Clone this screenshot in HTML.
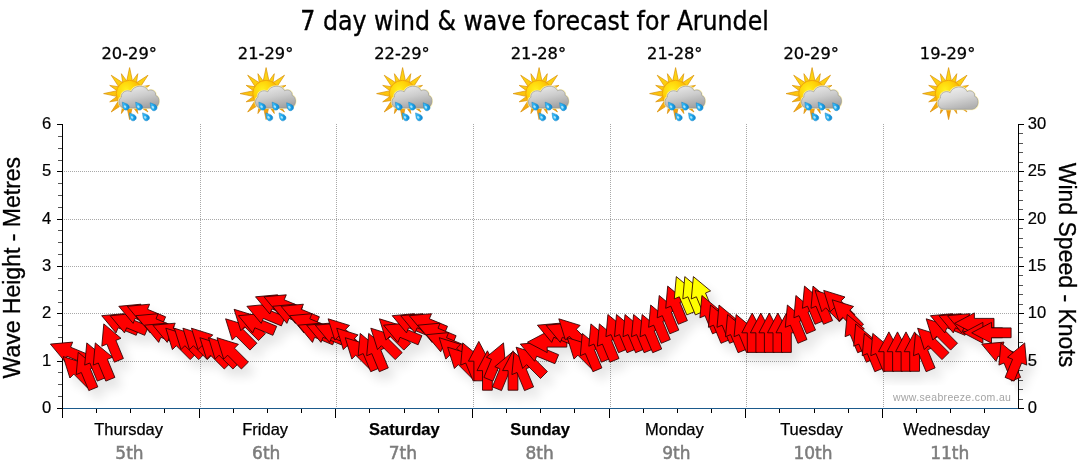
<!DOCTYPE html>
<html lang="en"><head><meta charset="utf-8"><title>7 day wind &amp; wave forecast for Arundel</title>
<style>html,body{margin:0;padding:0;background:#fff}body{width:1080px;height:475px;overflow:hidden}svg{display:block}</style>
</head><body>
<svg width="1080" height="475" viewBox="0 0 1080 475">
<defs>
<filter id="sh" x="-20%" y="-40%" width="140%" height="200%"><feGaussianBlur in="SourceAlpha" stdDeviation="5.5"/><feOffset dx="7" dy="9"/><feComponentTransfer><feFuncA type="linear" slope="0.11"/></feComponentTransfer></filter>
<radialGradient id="sunG" cx="0.36" cy="0.36" r="0.75"><stop offset="0" stop-color="#fff01e"/><stop offset="0.45" stop-color="#ffd208"/><stop offset="1" stop-color="#f39a08"/></radialGradient>
<linearGradient id="rayG" gradientUnits="userSpaceOnUse" x1="0" y1="-26" x2="0" y2="26"><stop offset="0" stop-color="#ffdc14"/><stop offset="0.5" stop-color="#fcc40c"/><stop offset="1" stop-color="#f0900c"/></linearGradient>
<linearGradient id="cloudG" x1="0.2" y1="0" x2="0.6" y2="1"><stop offset="0" stop-color="#ebebeb"/><stop offset="0.5" stop-color="#cccccc"/><stop offset="1" stop-color="#a2a2a2"/></linearGradient>
<linearGradient id="cloudL" x1="0.2" y1="0" x2="0.6" y2="1"><stop offset="0" stop-color="#f0f0f0"/><stop offset="0.5" stop-color="#d8d8d8"/><stop offset="1" stop-color="#b0b0b0"/></linearGradient>
<linearGradient id="dropG" x1="0" y1="0" x2="1" y2="1"><stop offset="0" stop-color="#6fd4ff"/><stop offset="0.5" stop-color="#22aef0"/><stop offset="1" stop-color="#0a7ac8"/></linearGradient>
</defs>
<rect width="1080" height="475" fill="#fff"/>
<text id="title" x="300.3" y="29.6" textLength="468.5" lengthAdjust="spacingAndGlyphs" font-family='"DejaVu Sans Condensed", "DejaVu Sans", Tahoma, sans-serif' font-size="27.3" fill="#000" stroke="#000" stroke-width="0.35">7 day wind &amp; wave forecast for Arundel</text>
<g stroke="#a8a8a8" stroke-width="1" stroke-dasharray="1,1" fill="none" shape-rendering="crispEdges"><line x1="64" x2="1018" y1="361.5" y2="361.5"/><line x1="64" x2="1018" y1="313.5" y2="313.5"/><line x1="64" x2="1018" y1="266.5" y2="266.5"/><line x1="64" x2="1018" y1="219.5" y2="219.5"/><line x1="64" x2="1018" y1="171.5" y2="171.5"/><line x1="200.5" x2="200.5" y1="124" y2="408"/><line x1="336.5" x2="336.5" y1="124" y2="408"/><line x1="473.5" x2="473.5" y1="124" y2="408"/><line x1="610.5" x2="610.5" y1="124" y2="408"/><line x1="746.5" x2="746.5" y1="124" y2="408"/><line x1="883.5" x2="883.5" y1="124" y2="408"/></g>
<g stroke="#000" stroke-width="1" fill="none" shape-rendering="crispEdges"><line x1="62.5" x2="62.5" y1="124" y2="417.5"/><line x1="1018.5" x2="1018.5" y1="124" y2="409"/><line x1="57" x2="62" y1="408.5" y2="408.5"/><line x1="58" x2="62" y1="396.5" y2="396.5" stroke="#555"/><line x1="58" x2="62" y1="384.5" y2="384.5" stroke="#555"/><line x1="58" x2="62" y1="372.5" y2="372.5" stroke="#555"/><line x1="57" x2="62" y1="361.5" y2="361.5"/><line x1="58" x2="62" y1="349.5" y2="349.5" stroke="#555"/><line x1="58" x2="62" y1="337.5" y2="337.5" stroke="#555"/><line x1="58" x2="62" y1="325.5" y2="325.5" stroke="#555"/><line x1="57" x2="62" y1="313.5" y2="313.5"/><line x1="58" x2="62" y1="302.5" y2="302.5" stroke="#555"/><line x1="58" x2="62" y1="290.5" y2="290.5" stroke="#555"/><line x1="58" x2="62" y1="278.5" y2="278.5" stroke="#555"/><line x1="57" x2="62" y1="266.5" y2="266.5"/><line x1="58" x2="62" y1="254.5" y2="254.5" stroke="#555"/><line x1="58" x2="62" y1="242.5" y2="242.5" stroke="#555"/><line x1="58" x2="62" y1="230.5" y2="230.5" stroke="#555"/><line x1="57" x2="62" y1="219.5" y2="219.5"/><line x1="58" x2="62" y1="207.5" y2="207.5" stroke="#555"/><line x1="58" x2="62" y1="195.5" y2="195.5" stroke="#555"/><line x1="58" x2="62" y1="183.5" y2="183.5" stroke="#555"/><line x1="57" x2="62" y1="171.5" y2="171.5"/><line x1="58" x2="62" y1="160.5" y2="160.5" stroke="#555"/><line x1="58" x2="62" y1="148.5" y2="148.5" stroke="#555"/><line x1="58" x2="62" y1="136.5" y2="136.5" stroke="#555"/><line x1="57" x2="62" y1="124.5" y2="124.5"/><line x1="1019" x2="1024" y1="408.5" y2="408.5"/><line x1="1019" x2="1023" y1="399.5" y2="399.5" stroke="#555"/><line x1="1019" x2="1023" y1="389.5" y2="389.5" stroke="#555"/><line x1="1019" x2="1023" y1="380.5" y2="380.5" stroke="#555"/><line x1="1019" x2="1023" y1="370.5" y2="370.5" stroke="#555"/><line x1="1019" x2="1024" y1="361.5" y2="361.5"/><line x1="1019" x2="1023" y1="351.5" y2="351.5" stroke="#555"/><line x1="1019" x2="1023" y1="342.5" y2="342.5" stroke="#555"/><line x1="1019" x2="1023" y1="332.5" y2="332.5" stroke="#555"/><line x1="1019" x2="1023" y1="323.5" y2="323.5" stroke="#555"/><line x1="1019" x2="1024" y1="313.5" y2="313.5"/><line x1="1019" x2="1023" y1="304.5" y2="304.5" stroke="#555"/><line x1="1019" x2="1023" y1="294.5" y2="294.5" stroke="#555"/><line x1="1019" x2="1023" y1="285.5" y2="285.5" stroke="#555"/><line x1="1019" x2="1023" y1="275.5" y2="275.5" stroke="#555"/><line x1="1019" x2="1024" y1="266.5" y2="266.5"/><line x1="1019" x2="1023" y1="257.5" y2="257.5" stroke="#555"/><line x1="1019" x2="1023" y1="247.5" y2="247.5" stroke="#555"/><line x1="1019" x2="1023" y1="238.5" y2="238.5" stroke="#555"/><line x1="1019" x2="1023" y1="228.5" y2="228.5" stroke="#555"/><line x1="1019" x2="1024" y1="219.5" y2="219.5"/><line x1="1019" x2="1023" y1="209.5" y2="209.5" stroke="#555"/><line x1="1019" x2="1023" y1="200.5" y2="200.5" stroke="#555"/><line x1="1019" x2="1023" y1="190.5" y2="190.5" stroke="#555"/><line x1="1019" x2="1023" y1="181.5" y2="181.5" stroke="#555"/><line x1="1019" x2="1024" y1="171.5" y2="171.5"/><line x1="1019" x2="1023" y1="162.5" y2="162.5" stroke="#555"/><line x1="1019" x2="1023" y1="152.5" y2="152.5" stroke="#555"/><line x1="1019" x2="1023" y1="143.5" y2="143.5" stroke="#555"/><line x1="1019" x2="1023" y1="133.5" y2="133.5" stroke="#555"/><line x1="1019" x2="1024" y1="124.5" y2="124.5"/><line x1="96.5" x2="96.5" y1="409" y2="413"/><line x1="130.5" x2="130.5" y1="409" y2="413"/><line x1="164.5" x2="164.5" y1="409" y2="413"/><line x1="199.5" x2="199.5" y1="409" y2="417.5"/><line x1="233.5" x2="233.5" y1="409" y2="413"/><line x1="267.5" x2="267.5" y1="409" y2="413"/><line x1="301.5" x2="301.5" y1="409" y2="413"/><line x1="335.5" x2="335.5" y1="409" y2="417.5"/><line x1="369.5" x2="369.5" y1="409" y2="413"/><line x1="404.5" x2="404.5" y1="409" y2="413"/><line x1="438.5" x2="438.5" y1="409" y2="413"/><line x1="472.5" x2="472.5" y1="409" y2="417.5"/><line x1="506.5" x2="506.5" y1="409" y2="413"/><line x1="540.5" x2="540.5" y1="409" y2="413"/><line x1="574.5" x2="574.5" y1="409" y2="413"/><line x1="609.5" x2="609.5" y1="409" y2="417.5"/><line x1="643.5" x2="643.5" y1="409" y2="413"/><line x1="677.5" x2="677.5" y1="409" y2="413"/><line x1="711.5" x2="711.5" y1="409" y2="413"/><line x1="745.5" x2="745.5" y1="409" y2="417.5"/><line x1="779.5" x2="779.5" y1="409" y2="413"/><line x1="814.5" x2="814.5" y1="409" y2="413"/><line x1="848.5" x2="848.5" y1="409" y2="413"/><line x1="882.5" x2="882.5" y1="409" y2="417.5"/><line x1="916.5" x2="916.5" y1="409" y2="413"/><line x1="950.5" x2="950.5" y1="409" y2="413"/><line x1="984.5" x2="984.5" y1="409" y2="413"/></g>
<line x1="63" x2="1018" y1="408.5" y2="408.5" stroke="#1b5a8c" stroke-width="1.1"/>
<g filter="url(#sh)" fill="#000" stroke="none"><polygon points="50.4,344.1 64.7,361.3 66.8,356.2 84.9,363.7 88.7,354.7 70.6,347.2 72.7,342.1"/><polygon points="63.2,356.6 69.9,378.0 73.8,374.1 87.6,388.0 94.6,381.0 80.7,367.2 84.6,363.3"/><polygon points="78.2,352.3 76.2,374.6 81.3,372.5 88.8,390.6 97.8,386.9 90.3,368.8 95.4,366.7"/><polygon points="86.8,342.9 84.7,365.1 89.8,363.0 97.3,381.1 106.4,377.4 98.9,359.3 103.9,357.2"/><polygon points="95.3,342.9 93.3,365.1 98.3,363.0 105.8,381.1 114.9,377.4 107.4,359.3 112.5,357.2"/><polygon points="103.8,323.9 101.8,346.2 106.9,344.1 114.4,362.2 123.4,358.5 115.9,340.4 121.0,338.3"/><polygon points="101.7,315.7 116.0,332.9 118.1,327.8 136.2,335.3 139.9,326.3 121.8,318.8 123.9,313.7"/><polygon points="110.2,315.7 124.5,332.9 126.6,327.8 144.7,335.3 148.5,326.3 130.4,318.8 132.5,313.7"/><polygon points="118.8,306.3 133.1,323.4 135.2,318.4 153.3,325.9 157.0,316.8 138.9,309.3 141.0,304.2"/><polygon points="127.3,306.3 141.6,323.4 143.7,318.4 161.8,325.9 165.6,316.8 147.5,309.3 149.6,304.2"/><polygon points="135.8,315.7 150.2,332.9 152.3,327.8 170.4,335.3 174.1,326.3 156.0,318.8 158.1,313.7"/><polygon points="144.4,325.2 158.7,342.4 160.8,337.3 178.9,344.8 182.7,335.7 164.6,328.2 166.7,323.2"/><polygon points="152.9,325.2 167.2,342.4 169.4,337.3 187.5,344.8 191.2,335.7 173.1,328.2 175.2,323.2"/><polygon points="165.8,328.2 172.4,349.6 176.3,345.7 190.2,359.6 197.1,352.6 183.2,338.8 187.1,334.9"/><polygon points="174.3,328.2 181.0,349.6 184.9,345.7 198.7,359.6 205.6,352.6 191.8,338.8 195.7,334.9"/><polygon points="182.9,328.2 189.5,349.6 193.4,345.7 207.3,359.6 214.2,352.6 200.3,338.8 204.2,334.9"/><polygon points="191.4,328.2 198.1,349.6 201.9,345.7 215.8,359.6 222.7,352.6 208.9,338.8 212.8,334.9"/><polygon points="199.9,337.7 206.6,359.1 210.5,355.2 224.3,369.0 231.3,362.1 217.4,348.2 221.3,344.3"/><polygon points="208.5,337.7 215.1,359.1 219.0,355.2 232.9,369.0 239.8,362.1 226.0,348.2 229.8,344.3"/><polygon points="217.0,337.7 223.7,359.1 227.6,355.2 241.4,369.0 248.4,362.1 234.5,348.2 238.4,344.3"/><polygon points="225.6,318.8 232.2,340.1 236.1,336.2 250.0,350.1 256.9,343.2 243.0,329.3 246.9,325.4"/><polygon points="234.1,309.3 240.8,330.7 244.7,326.8 258.5,340.6 265.4,333.7 251.6,319.8 255.5,315.9"/><polygon points="238.4,315.7 252.7,332.9 254.8,327.8 272.9,335.3 276.7,326.3 258.5,318.8 260.6,313.7"/><polygon points="246.9,306.3 261.2,323.4 263.3,318.4 281.4,325.9 285.2,316.8 267.1,309.3 269.2,304.2"/><polygon points="255.5,296.8 269.8,314.0 271.9,308.9 290.0,316.4 293.7,307.3 275.6,299.8 277.7,294.8"/><polygon points="264.0,296.8 278.3,314.0 280.4,308.9 298.5,316.4 302.3,307.3 284.2,299.8 286.3,294.8"/><polygon points="272.6,306.3 286.9,323.4 289.0,318.4 307.1,325.9 310.8,316.8 292.7,309.3 294.8,304.2"/><polygon points="281.1,306.3 295.4,323.4 297.5,318.4 315.6,325.9 319.4,316.8 301.3,309.3 303.4,304.2"/><polygon points="289.6,315.7 304.0,332.9 306.1,327.8 324.2,335.3 327.9,326.3 309.8,318.8 311.9,313.7"/><polygon points="298.2,325.2 312.5,342.4 314.6,337.3 332.7,344.8 336.5,335.7 318.4,328.2 320.5,323.2"/><polygon points="306.7,325.2 321.0,342.4 323.1,337.3 341.3,344.8 345.0,335.7 326.9,328.2 329.0,323.2"/><polygon points="315.3,325.2 329.6,342.4 331.7,337.3 349.8,344.8 353.5,335.7 335.4,328.2 337.5,323.2"/><polygon points="328.1,318.8 334.8,340.1 338.6,336.2 352.5,350.1 359.4,343.2 345.6,329.3 349.5,325.4"/><polygon points="336.7,328.2 343.3,349.6 347.2,345.7 361.0,359.6 368.0,352.6 354.1,338.8 358.0,334.9"/><polygon points="345.2,337.7 351.8,359.1 355.7,355.2 369.6,369.0 376.5,362.1 362.7,348.2 366.5,344.3"/><polygon points="360.2,333.4 358.1,355.7 363.2,353.6 370.7,371.7 379.8,367.9 372.3,349.8 377.3,347.7"/><polygon points="368.7,333.4 366.7,355.7 371.8,353.6 379.3,371.7 388.3,367.9 380.8,349.8 385.9,347.7"/><polygon points="370.8,328.2 377.5,349.6 381.4,345.7 395.2,359.6 402.2,352.6 388.3,338.8 392.2,334.9"/><polygon points="379.4,318.8 386.0,340.1 389.9,336.2 403.8,350.1 410.7,343.2 396.8,329.3 400.7,325.4"/><polygon points="383.6,325.2 397.9,342.4 400.0,337.3 418.1,344.8 421.9,335.7 403.8,328.2 405.9,323.2"/><polygon points="392.2,315.7 406.5,332.9 408.6,327.8 426.7,335.3 430.4,326.3 412.3,318.8 414.4,313.7"/><polygon points="400.7,315.7 415.0,332.9 417.1,327.8 435.2,335.3 439.0,326.3 420.9,318.8 423.0,313.7"/><polygon points="409.3,315.7 423.6,332.9 425.7,327.8 443.8,335.3 447.5,326.3 429.4,318.8 431.5,313.7"/><polygon points="417.8,325.2 432.1,342.4 434.2,337.3 452.3,344.8 456.1,335.7 438.0,328.2 440.1,323.2"/><polygon points="426.3,334.7 440.7,351.8 442.8,346.8 460.9,354.3 464.6,345.2 446.5,337.7 448.6,332.6"/><polygon points="439.2,337.7 445.8,359.1 449.7,355.2 463.6,369.0 470.5,362.1 456.6,348.2 460.5,344.3"/><polygon points="447.7,347.2 454.4,368.5 458.3,364.6 472.1,378.5 479.0,371.6 465.2,357.7 469.1,353.8"/><polygon points="462.7,342.9 460.7,365.1 465.7,363.0 473.2,381.1 482.3,377.4 474.8,359.3 479.9,357.2"/><polygon points="478.8,341.4 468.4,361.2 473.9,361.2 473.9,380.8 483.7,380.8 483.7,361.2 489.2,361.2"/><polygon points="487.4,350.8 477.0,370.6 482.5,370.6 482.5,390.2 492.3,390.2 492.3,370.6 497.8,370.6"/><polygon points="503.5,342.9 486.3,357.2 491.4,359.3 483.9,377.4 492.9,381.1 500.4,363.0 505.5,365.1"/><polygon points="512.0,352.3 494.8,366.7 499.9,368.8 492.4,386.9 501.5,390.6 509.0,372.5 514.1,374.6"/><polygon points="513.0,350.8 502.6,370.6 508.1,370.6 508.1,390.2 517.9,390.2 517.9,370.6 523.4,370.6"/><polygon points="514.0,352.3 511.9,374.6 517.0,372.5 524.5,390.6 533.6,386.9 526.1,368.8 531.1,366.7"/><polygon points="516.1,347.2 522.7,368.5 526.6,364.6 540.5,378.5 547.4,371.6 533.5,357.7 537.4,353.8"/><polygon points="520.3,344.1 534.6,361.3 536.7,356.2 554.9,363.7 558.6,354.7 540.5,347.2 542.6,342.1"/><polygon points="527.4,342.2 547.2,352.6 547.2,347.1 566.8,347.1 566.8,337.3 547.2,337.3 547.2,331.8"/><polygon points="537.4,325.2 551.7,342.4 553.8,337.3 571.9,344.8 575.7,335.7 557.6,328.2 559.7,323.2"/><polygon points="546.0,325.2 560.3,342.4 562.4,337.3 580.5,344.8 584.2,335.7 566.1,328.2 568.2,323.2"/><polygon points="558.8,318.8 565.4,340.1 569.3,336.2 583.2,350.1 590.1,343.2 576.3,329.3 580.1,325.4"/><polygon points="567.3,337.7 574.0,359.1 577.9,355.2 591.7,369.0 598.7,362.1 584.8,348.2 588.7,344.3"/><polygon points="582.3,333.4 580.3,355.7 585.4,353.6 592.9,371.7 601.9,367.9 594.4,349.8 599.5,347.7"/><polygon points="590.9,323.9 588.8,346.2 593.9,344.1 601.4,362.2 610.5,358.5 603.0,340.4 608.0,338.3"/><polygon points="599.4,323.9 597.4,346.2 602.4,344.1 609.9,362.2 619.0,358.5 611.5,340.4 616.6,338.3"/><polygon points="607.9,314.5 605.9,336.7 611.0,334.6 618.5,352.7 627.5,349.0 620.0,330.9 625.1,328.8"/><polygon points="616.5,314.5 614.5,336.7 619.5,334.6 627.0,352.7 636.1,349.0 628.6,330.9 633.7,328.8"/><polygon points="625.0,314.5 623.0,336.7 628.1,334.6 635.6,352.7 644.6,349.0 637.1,330.9 642.2,328.8"/><polygon points="633.6,314.5 631.5,336.7 636.6,334.6 644.1,352.7 653.2,349.0 645.7,330.9 650.8,328.8"/><polygon points="642.1,314.5 640.1,336.7 645.2,334.6 652.7,352.7 661.7,349.0 654.2,330.9 659.3,328.8"/><polygon points="650.7,305.0 648.6,327.3 653.7,325.2 661.2,343.3 670.3,339.5 662.8,321.4 667.8,319.3"/><polygon points="659.2,295.5 657.2,317.8 662.3,315.7 669.8,333.8 678.8,330.1 671.3,312.0 676.4,309.9"/><polygon points="667.7,286.1 665.7,308.3 670.8,306.2 678.3,324.3 687.4,320.6 679.9,302.5 684.9,300.4"/><polygon points="676.3,276.6 674.3,298.9 679.3,296.8 686.8,314.9 695.9,311.1 688.4,293.0 693.5,290.9"/><polygon points="684.8,276.6 682.8,298.9 687.9,296.8 695.4,314.9 704.4,311.1 696.9,293.0 702.0,290.9"/><polygon points="693.4,276.6 691.3,298.9 696.4,296.8 703.9,314.9 713.0,311.1 705.5,293.0 710.6,290.9"/><polygon points="701.9,295.5 699.9,317.8 705.0,315.7 712.5,333.8 721.5,330.1 714.0,312.0 719.1,309.9"/><polygon points="710.5,305.0 708.4,327.3 713.5,325.2 721.0,343.3 730.1,339.5 722.6,321.4 727.7,319.3"/><polygon points="719.0,305.0 717.0,327.3 722.1,325.2 729.6,343.3 738.6,339.5 731.1,321.4 736.2,319.3"/><polygon points="727.6,314.5 725.5,336.7 730.6,334.6 738.1,352.7 747.2,349.0 739.7,330.9 744.7,328.8"/><polygon points="736.1,314.5 734.1,336.7 739.1,334.6 746.6,352.7 755.7,349.0 748.2,330.9 753.3,328.8"/><polygon points="752.2,313.0 741.8,332.8 747.3,332.8 747.3,352.4 757.1,352.4 757.1,332.8 762.6,332.8"/><polygon points="760.8,313.0 750.4,332.8 755.9,332.8 755.9,352.4 765.7,352.4 765.7,332.8 771.2,332.8"/><polygon points="769.3,313.0 758.9,332.8 764.4,332.8 764.4,352.4 774.2,352.4 774.2,332.8 779.7,332.8"/><polygon points="777.9,313.0 767.5,332.8 773.0,332.8 773.0,352.4 782.8,352.4 782.8,332.8 788.3,332.8"/><polygon points="786.4,313.0 776.0,332.8 781.5,332.8 781.5,352.4 791.3,352.4 791.3,332.8 796.8,332.8"/><polygon points="787.4,305.0 785.3,327.3 790.4,325.2 797.9,343.3 807.0,339.5 799.5,321.4 804.5,319.3"/><polygon points="795.9,295.5 793.9,317.8 799.0,315.7 806.5,333.8 815.5,330.1 808.0,312.0 813.1,309.9"/><polygon points="804.5,286.1 802.4,308.3 807.5,306.2 815.0,324.3 824.1,320.6 816.6,302.5 821.6,300.4"/><polygon points="813.0,286.1 811.0,308.3 816.0,306.2 823.5,324.3 832.6,320.6 825.1,302.5 830.2,300.4"/><polygon points="815.1,290.4 821.8,311.7 825.7,307.8 839.5,321.7 846.4,314.8 832.6,300.9 836.5,297.0"/><polygon points="823.7,290.4 830.3,311.7 834.2,307.8 848.1,321.7 855.0,314.8 841.1,300.9 845.0,297.0"/><polygon points="832.2,299.8 838.9,321.2 842.7,317.3 856.6,331.2 863.5,324.2 849.7,310.4 853.6,306.5"/><polygon points="847.2,314.5 845.1,336.7 850.2,334.6 857.7,352.7 866.8,349.0 859.3,330.9 864.4,328.8"/><polygon points="855.7,323.9 853.7,346.2 858.8,344.1 866.3,362.2 875.3,358.5 867.8,340.4 872.9,338.3"/><polygon points="864.3,333.4 862.2,355.7 867.3,353.6 874.8,371.7 883.9,367.9 876.4,349.8 881.4,347.7"/><polygon points="872.8,333.4 870.8,355.7 875.9,353.6 883.4,371.7 892.4,367.9 884.9,349.8 890.0,347.7"/><polygon points="888.9,331.9 878.5,351.7 884.0,351.7 884.0,371.3 893.8,371.3 893.8,351.7 899.3,351.7"/><polygon points="897.5,331.9 887.1,351.7 892.6,351.7 892.6,371.3 902.4,371.3 902.4,351.7 907.9,351.7"/><polygon points="906.0,331.9 895.6,351.7 901.1,351.7 901.1,371.3 910.9,371.3 910.9,351.7 916.4,351.7"/><polygon points="914.6,331.9 904.2,351.7 909.7,351.7 909.7,371.3 919.5,371.3 919.5,351.7 925.0,351.7"/><polygon points="915.5,333.4 913.5,355.7 918.6,353.6 926.1,371.7 935.1,367.9 927.6,349.8 932.7,347.7"/><polygon points="917.6,328.2 924.3,349.6 928.2,345.7 942.0,359.6 949.0,352.6 935.1,338.8 939.0,334.9"/><polygon points="926.2,318.8 932.8,340.1 936.7,336.2 950.6,350.1 957.5,343.2 943.7,329.3 947.5,325.4"/><polygon points="930.4,315.7 944.8,332.9 946.9,327.8 965.0,335.3 968.7,326.3 950.6,318.8 952.7,313.7"/><polygon points="939.0,315.7 953.3,332.9 955.4,327.8 973.5,335.3 977.3,326.3 959.2,318.8 961.3,313.7"/><polygon points="947.5,315.7 961.8,332.9 963.9,327.8 982.1,335.3 985.8,326.3 967.7,318.8 969.8,313.7"/><polygon points="954.6,323.3 974.4,333.7 974.4,328.2 994.0,328.2 994.0,318.4 974.4,318.4 974.4,312.9"/><polygon points="963.1,332.8 982.9,343.2 982.9,337.7 1002.5,337.7 1002.5,327.9 982.9,327.9 982.9,322.4"/><polygon points="971.7,332.8 991.5,343.2 991.5,337.7 1011.1,337.7 1011.1,327.9 991.5,327.9 991.5,322.4"/><polygon points="981.7,344.1 996.0,361.3 998.1,356.2 1016.2,363.7 1020.0,354.7 1001.9,347.2 1004.0,342.1"/><polygon points="1001.0,342.9 998.9,365.1 1004.0,363.0 1011.5,381.1 1020.6,377.4 1013.1,359.3 1018.1,357.2"/><polygon points="1024.7,342.9 1007.5,357.2 1012.6,359.3 1005.1,377.4 1014.1,381.1 1021.6,363.0 1026.7,365.1"/></g>
<g stroke="#2a0000" stroke-width="0.85" stroke-linejoin="miter"><polygon points="50.4,344.1 64.7,361.3 66.8,356.2 84.9,363.7 88.7,354.7 70.6,347.2 72.7,342.1" fill="#ff0000"/><polygon points="63.2,356.6 69.9,378.0 73.8,374.1 87.6,388.0 94.6,381.0 80.7,367.2 84.6,363.3" fill="#ff0000"/><polygon points="78.2,352.3 76.2,374.6 81.3,372.5 88.8,390.6 97.8,386.9 90.3,368.8 95.4,366.7" fill="#ff0000"/><polygon points="86.8,342.9 84.7,365.1 89.8,363.0 97.3,381.1 106.4,377.4 98.9,359.3 103.9,357.2" fill="#ff0000"/><polygon points="95.3,342.9 93.3,365.1 98.3,363.0 105.8,381.1 114.9,377.4 107.4,359.3 112.5,357.2" fill="#ff0000"/><polygon points="103.8,323.9 101.8,346.2 106.9,344.1 114.4,362.2 123.4,358.5 115.9,340.4 121.0,338.3" fill="#ff0000"/><polygon points="101.7,315.7 116.0,332.9 118.1,327.8 136.2,335.3 139.9,326.3 121.8,318.8 123.9,313.7" fill="#ff0000"/><polygon points="110.2,315.7 124.5,332.9 126.6,327.8 144.7,335.3 148.5,326.3 130.4,318.8 132.5,313.7" fill="#ff0000"/><polygon points="118.8,306.3 133.1,323.4 135.2,318.4 153.3,325.9 157.0,316.8 138.9,309.3 141.0,304.2" fill="#ff0000"/><polygon points="127.3,306.3 141.6,323.4 143.7,318.4 161.8,325.9 165.6,316.8 147.5,309.3 149.6,304.2" fill="#ff0000"/><polygon points="135.8,315.7 150.2,332.9 152.3,327.8 170.4,335.3 174.1,326.3 156.0,318.8 158.1,313.7" fill="#ff0000"/><polygon points="144.4,325.2 158.7,342.4 160.8,337.3 178.9,344.8 182.7,335.7 164.6,328.2 166.7,323.2" fill="#ff0000"/><polygon points="152.9,325.2 167.2,342.4 169.4,337.3 187.5,344.8 191.2,335.7 173.1,328.2 175.2,323.2" fill="#ff0000"/><polygon points="165.8,328.2 172.4,349.6 176.3,345.7 190.2,359.6 197.1,352.6 183.2,338.8 187.1,334.9" fill="#ff0000"/><polygon points="174.3,328.2 181.0,349.6 184.9,345.7 198.7,359.6 205.6,352.6 191.8,338.8 195.7,334.9" fill="#ff0000"/><polygon points="182.9,328.2 189.5,349.6 193.4,345.7 207.3,359.6 214.2,352.6 200.3,338.8 204.2,334.9" fill="#ff0000"/><polygon points="191.4,328.2 198.1,349.6 201.9,345.7 215.8,359.6 222.7,352.6 208.9,338.8 212.8,334.9" fill="#ff0000"/><polygon points="199.9,337.7 206.6,359.1 210.5,355.2 224.3,369.0 231.3,362.1 217.4,348.2 221.3,344.3" fill="#ff0000"/><polygon points="208.5,337.7 215.1,359.1 219.0,355.2 232.9,369.0 239.8,362.1 226.0,348.2 229.8,344.3" fill="#ff0000"/><polygon points="217.0,337.7 223.7,359.1 227.6,355.2 241.4,369.0 248.4,362.1 234.5,348.2 238.4,344.3" fill="#ff0000"/><polygon points="225.6,318.8 232.2,340.1 236.1,336.2 250.0,350.1 256.9,343.2 243.0,329.3 246.9,325.4" fill="#ff0000"/><polygon points="234.1,309.3 240.8,330.7 244.7,326.8 258.5,340.6 265.4,333.7 251.6,319.8 255.5,315.9" fill="#ff0000"/><polygon points="238.4,315.7 252.7,332.9 254.8,327.8 272.9,335.3 276.7,326.3 258.5,318.8 260.6,313.7" fill="#ff0000"/><polygon points="246.9,306.3 261.2,323.4 263.3,318.4 281.4,325.9 285.2,316.8 267.1,309.3 269.2,304.2" fill="#ff0000"/><polygon points="255.5,296.8 269.8,314.0 271.9,308.9 290.0,316.4 293.7,307.3 275.6,299.8 277.7,294.8" fill="#ff0000"/><polygon points="264.0,296.8 278.3,314.0 280.4,308.9 298.5,316.4 302.3,307.3 284.2,299.8 286.3,294.8" fill="#ff0000"/><polygon points="272.6,306.3 286.9,323.4 289.0,318.4 307.1,325.9 310.8,316.8 292.7,309.3 294.8,304.2" fill="#ff0000"/><polygon points="281.1,306.3 295.4,323.4 297.5,318.4 315.6,325.9 319.4,316.8 301.3,309.3 303.4,304.2" fill="#ff0000"/><polygon points="289.6,315.7 304.0,332.9 306.1,327.8 324.2,335.3 327.9,326.3 309.8,318.8 311.9,313.7" fill="#ff0000"/><polygon points="298.2,325.2 312.5,342.4 314.6,337.3 332.7,344.8 336.5,335.7 318.4,328.2 320.5,323.2" fill="#ff0000"/><polygon points="306.7,325.2 321.0,342.4 323.1,337.3 341.3,344.8 345.0,335.7 326.9,328.2 329.0,323.2" fill="#ff0000"/><polygon points="315.3,325.2 329.6,342.4 331.7,337.3 349.8,344.8 353.5,335.7 335.4,328.2 337.5,323.2" fill="#ff0000"/><polygon points="328.1,318.8 334.8,340.1 338.6,336.2 352.5,350.1 359.4,343.2 345.6,329.3 349.5,325.4" fill="#ff0000"/><polygon points="336.7,328.2 343.3,349.6 347.2,345.7 361.0,359.6 368.0,352.6 354.1,338.8 358.0,334.9" fill="#ff0000"/><polygon points="345.2,337.7 351.8,359.1 355.7,355.2 369.6,369.0 376.5,362.1 362.7,348.2 366.5,344.3" fill="#ff0000"/><polygon points="360.2,333.4 358.1,355.7 363.2,353.6 370.7,371.7 379.8,367.9 372.3,349.8 377.3,347.7" fill="#ff0000"/><polygon points="368.7,333.4 366.7,355.7 371.8,353.6 379.3,371.7 388.3,367.9 380.8,349.8 385.9,347.7" fill="#ff0000"/><polygon points="370.8,328.2 377.5,349.6 381.4,345.7 395.2,359.6 402.2,352.6 388.3,338.8 392.2,334.9" fill="#ff0000"/><polygon points="379.4,318.8 386.0,340.1 389.9,336.2 403.8,350.1 410.7,343.2 396.8,329.3 400.7,325.4" fill="#ff0000"/><polygon points="383.6,325.2 397.9,342.4 400.0,337.3 418.1,344.8 421.9,335.7 403.8,328.2 405.9,323.2" fill="#ff0000"/><polygon points="392.2,315.7 406.5,332.9 408.6,327.8 426.7,335.3 430.4,326.3 412.3,318.8 414.4,313.7" fill="#ff0000"/><polygon points="400.7,315.7 415.0,332.9 417.1,327.8 435.2,335.3 439.0,326.3 420.9,318.8 423.0,313.7" fill="#ff0000"/><polygon points="409.3,315.7 423.6,332.9 425.7,327.8 443.8,335.3 447.5,326.3 429.4,318.8 431.5,313.7" fill="#ff0000"/><polygon points="417.8,325.2 432.1,342.4 434.2,337.3 452.3,344.8 456.1,335.7 438.0,328.2 440.1,323.2" fill="#ff0000"/><polygon points="426.3,334.7 440.7,351.8 442.8,346.8 460.9,354.3 464.6,345.2 446.5,337.7 448.6,332.6" fill="#ff0000"/><polygon points="439.2,337.7 445.8,359.1 449.7,355.2 463.6,369.0 470.5,362.1 456.6,348.2 460.5,344.3" fill="#ff0000"/><polygon points="447.7,347.2 454.4,368.5 458.3,364.6 472.1,378.5 479.0,371.6 465.2,357.7 469.1,353.8" fill="#ff0000"/><polygon points="462.7,342.9 460.7,365.1 465.7,363.0 473.2,381.1 482.3,377.4 474.8,359.3 479.9,357.2" fill="#ff0000"/><polygon points="478.8,341.4 468.4,361.2 473.9,361.2 473.9,380.8 483.7,380.8 483.7,361.2 489.2,361.2" fill="#ff0000"/><polygon points="487.4,350.8 477.0,370.6 482.5,370.6 482.5,390.2 492.3,390.2 492.3,370.6 497.8,370.6" fill="#ff0000"/><polygon points="503.5,342.9 486.3,357.2 491.4,359.3 483.9,377.4 492.9,381.1 500.4,363.0 505.5,365.1" fill="#ff0000"/><polygon points="512.0,352.3 494.8,366.7 499.9,368.8 492.4,386.9 501.5,390.6 509.0,372.5 514.1,374.6" fill="#ff0000"/><polygon points="513.0,350.8 502.6,370.6 508.1,370.6 508.1,390.2 517.9,390.2 517.9,370.6 523.4,370.6" fill="#ff0000"/><polygon points="514.0,352.3 511.9,374.6 517.0,372.5 524.5,390.6 533.6,386.9 526.1,368.8 531.1,366.7" fill="#ff0000"/><polygon points="516.1,347.2 522.7,368.5 526.6,364.6 540.5,378.5 547.4,371.6 533.5,357.7 537.4,353.8" fill="#ff0000"/><polygon points="520.3,344.1 534.6,361.3 536.7,356.2 554.9,363.7 558.6,354.7 540.5,347.2 542.6,342.1" fill="#ff0000"/><polygon points="527.4,342.2 547.2,352.6 547.2,347.1 566.8,347.1 566.8,337.3 547.2,337.3 547.2,331.8" fill="#ff0000"/><polygon points="537.4,325.2 551.7,342.4 553.8,337.3 571.9,344.8 575.7,335.7 557.6,328.2 559.7,323.2" fill="#ff0000"/><polygon points="546.0,325.2 560.3,342.4 562.4,337.3 580.5,344.8 584.2,335.7 566.1,328.2 568.2,323.2" fill="#ff0000"/><polygon points="558.8,318.8 565.4,340.1 569.3,336.2 583.2,350.1 590.1,343.2 576.3,329.3 580.1,325.4" fill="#ff0000"/><polygon points="567.3,337.7 574.0,359.1 577.9,355.2 591.7,369.0 598.7,362.1 584.8,348.2 588.7,344.3" fill="#ff0000"/><polygon points="582.3,333.4 580.3,355.7 585.4,353.6 592.9,371.7 601.9,367.9 594.4,349.8 599.5,347.7" fill="#ff0000"/><polygon points="590.9,323.9 588.8,346.2 593.9,344.1 601.4,362.2 610.5,358.5 603.0,340.4 608.0,338.3" fill="#ff0000"/><polygon points="599.4,323.9 597.4,346.2 602.4,344.1 609.9,362.2 619.0,358.5 611.5,340.4 616.6,338.3" fill="#ff0000"/><polygon points="607.9,314.5 605.9,336.7 611.0,334.6 618.5,352.7 627.5,349.0 620.0,330.9 625.1,328.8" fill="#ff0000"/><polygon points="616.5,314.5 614.5,336.7 619.5,334.6 627.0,352.7 636.1,349.0 628.6,330.9 633.7,328.8" fill="#ff0000"/><polygon points="625.0,314.5 623.0,336.7 628.1,334.6 635.6,352.7 644.6,349.0 637.1,330.9 642.2,328.8" fill="#ff0000"/><polygon points="633.6,314.5 631.5,336.7 636.6,334.6 644.1,352.7 653.2,349.0 645.7,330.9 650.8,328.8" fill="#ff0000"/><polygon points="642.1,314.5 640.1,336.7 645.2,334.6 652.7,352.7 661.7,349.0 654.2,330.9 659.3,328.8" fill="#ff0000"/><polygon points="650.7,305.0 648.6,327.3 653.7,325.2 661.2,343.3 670.3,339.5 662.8,321.4 667.8,319.3" fill="#ff0000"/><polygon points="659.2,295.5 657.2,317.8 662.3,315.7 669.8,333.8 678.8,330.1 671.3,312.0 676.4,309.9" fill="#ff0000"/><polygon points="667.7,286.1 665.7,308.3 670.8,306.2 678.3,324.3 687.4,320.6 679.9,302.5 684.9,300.4" fill="#ff0000"/><polygon points="676.3,276.6 674.3,298.9 679.3,296.8 686.8,314.9 695.9,311.1 688.4,293.0 693.5,290.9" fill="#ffff00"/><polygon points="684.8,276.6 682.8,298.9 687.9,296.8 695.4,314.9 704.4,311.1 696.9,293.0 702.0,290.9" fill="#ffff00"/><polygon points="693.4,276.6 691.3,298.9 696.4,296.8 703.9,314.9 713.0,311.1 705.5,293.0 710.6,290.9" fill="#ffff00"/><polygon points="701.9,295.5 699.9,317.8 705.0,315.7 712.5,333.8 721.5,330.1 714.0,312.0 719.1,309.9" fill="#ff0000"/><polygon points="710.5,305.0 708.4,327.3 713.5,325.2 721.0,343.3 730.1,339.5 722.6,321.4 727.7,319.3" fill="#ff0000"/><polygon points="719.0,305.0 717.0,327.3 722.1,325.2 729.6,343.3 738.6,339.5 731.1,321.4 736.2,319.3" fill="#ff0000"/><polygon points="727.6,314.5 725.5,336.7 730.6,334.6 738.1,352.7 747.2,349.0 739.7,330.9 744.7,328.8" fill="#ff0000"/><polygon points="736.1,314.5 734.1,336.7 739.1,334.6 746.6,352.7 755.7,349.0 748.2,330.9 753.3,328.8" fill="#ff0000"/><polygon points="752.2,313.0 741.8,332.8 747.3,332.8 747.3,352.4 757.1,352.4 757.1,332.8 762.6,332.8" fill="#ff0000"/><polygon points="760.8,313.0 750.4,332.8 755.9,332.8 755.9,352.4 765.7,352.4 765.7,332.8 771.2,332.8" fill="#ff0000"/><polygon points="769.3,313.0 758.9,332.8 764.4,332.8 764.4,352.4 774.2,352.4 774.2,332.8 779.7,332.8" fill="#ff0000"/><polygon points="777.9,313.0 767.5,332.8 773.0,332.8 773.0,352.4 782.8,352.4 782.8,332.8 788.3,332.8" fill="#ff0000"/><polygon points="786.4,313.0 776.0,332.8 781.5,332.8 781.5,352.4 791.3,352.4 791.3,332.8 796.8,332.8" fill="#ff0000"/><polygon points="787.4,305.0 785.3,327.3 790.4,325.2 797.9,343.3 807.0,339.5 799.5,321.4 804.5,319.3" fill="#ff0000"/><polygon points="795.9,295.5 793.9,317.8 799.0,315.7 806.5,333.8 815.5,330.1 808.0,312.0 813.1,309.9" fill="#ff0000"/><polygon points="804.5,286.1 802.4,308.3 807.5,306.2 815.0,324.3 824.1,320.6 816.6,302.5 821.6,300.4" fill="#ff0000"/><polygon points="813.0,286.1 811.0,308.3 816.0,306.2 823.5,324.3 832.6,320.6 825.1,302.5 830.2,300.4" fill="#ff0000"/><polygon points="815.1,290.4 821.8,311.7 825.7,307.8 839.5,321.7 846.4,314.8 832.6,300.9 836.5,297.0" fill="#ff0000"/><polygon points="823.7,290.4 830.3,311.7 834.2,307.8 848.1,321.7 855.0,314.8 841.1,300.9 845.0,297.0" fill="#ff0000"/><polygon points="832.2,299.8 838.9,321.2 842.7,317.3 856.6,331.2 863.5,324.2 849.7,310.4 853.6,306.5" fill="#ff0000"/><polygon points="847.2,314.5 845.1,336.7 850.2,334.6 857.7,352.7 866.8,349.0 859.3,330.9 864.4,328.8" fill="#ff0000"/><polygon points="855.7,323.9 853.7,346.2 858.8,344.1 866.3,362.2 875.3,358.5 867.8,340.4 872.9,338.3" fill="#ff0000"/><polygon points="864.3,333.4 862.2,355.7 867.3,353.6 874.8,371.7 883.9,367.9 876.4,349.8 881.4,347.7" fill="#ff0000"/><polygon points="872.8,333.4 870.8,355.7 875.9,353.6 883.4,371.7 892.4,367.9 884.9,349.8 890.0,347.7" fill="#ff0000"/><polygon points="888.9,331.9 878.5,351.7 884.0,351.7 884.0,371.3 893.8,371.3 893.8,351.7 899.3,351.7" fill="#ff0000"/><polygon points="897.5,331.9 887.1,351.7 892.6,351.7 892.6,371.3 902.4,371.3 902.4,351.7 907.9,351.7" fill="#ff0000"/><polygon points="906.0,331.9 895.6,351.7 901.1,351.7 901.1,371.3 910.9,371.3 910.9,351.7 916.4,351.7" fill="#ff0000"/><polygon points="914.6,331.9 904.2,351.7 909.7,351.7 909.7,371.3 919.5,371.3 919.5,351.7 925.0,351.7" fill="#ff0000"/><polygon points="915.5,333.4 913.5,355.7 918.6,353.6 926.1,371.7 935.1,367.9 927.6,349.8 932.7,347.7" fill="#ff0000"/><polygon points="917.6,328.2 924.3,349.6 928.2,345.7 942.0,359.6 949.0,352.6 935.1,338.8 939.0,334.9" fill="#ff0000"/><polygon points="926.2,318.8 932.8,340.1 936.7,336.2 950.6,350.1 957.5,343.2 943.7,329.3 947.5,325.4" fill="#ff0000"/><polygon points="930.4,315.7 944.8,332.9 946.9,327.8 965.0,335.3 968.7,326.3 950.6,318.8 952.7,313.7" fill="#ff0000"/><polygon points="939.0,315.7 953.3,332.9 955.4,327.8 973.5,335.3 977.3,326.3 959.2,318.8 961.3,313.7" fill="#ff0000"/><polygon points="947.5,315.7 961.8,332.9 963.9,327.8 982.1,335.3 985.8,326.3 967.7,318.8 969.8,313.7" fill="#ff0000"/><polygon points="954.6,323.3 974.4,333.7 974.4,328.2 994.0,328.2 994.0,318.4 974.4,318.4 974.4,312.9" fill="#ff0000"/><polygon points="963.1,332.8 982.9,343.2 982.9,337.7 1002.5,337.7 1002.5,327.9 982.9,327.9 982.9,322.4" fill="#ff0000"/><polygon points="971.7,332.8 991.5,343.2 991.5,337.7 1011.1,337.7 1011.1,327.9 991.5,327.9 991.5,322.4" fill="#ff0000"/><polygon points="981.7,344.1 996.0,361.3 998.1,356.2 1016.2,363.7 1020.0,354.7 1001.9,347.2 1004.0,342.1" fill="#ff0000"/><polygon points="1001.0,342.9 998.9,365.1 1004.0,363.0 1011.5,381.1 1020.6,377.4 1013.1,359.3 1018.1,357.2" fill="#ff0000"/><polygon points="1024.7,342.9 1007.5,357.2 1012.6,359.3 1005.1,377.4 1014.1,381.1 1021.6,363.0 1026.7,365.1" fill="#ff0000"/></g>
<g font-family='"Liberation Sans", Arial, sans-serif' font-size="16.6" fill="#000" stroke="#000" stroke-width="0.2"><text x="51.3" y="413.1" text-anchor="end">0</text><text x="51.3" y="365.8" text-anchor="end">1</text><text x="51.3" y="318.4" text-anchor="end">2</text><text x="51.3" y="271.1" text-anchor="end">3</text><text x="51.3" y="223.8" text-anchor="end">4</text><text x="51.3" y="176.4" text-anchor="end">5</text><text x="51.3" y="129.1" text-anchor="end">6</text><text x="1027.8" y="413.1">0</text><text x="1027.8" y="365.8">5</text><text x="1027.8" y="318.4">10</text><text x="1027.8" y="271.1">15</text><text x="1027.8" y="223.8">20</text><text x="1027.8" y="176.4">25</text><text x="1027.8" y="129.1">30</text></g>
<text id="ltitle" transform="translate(20.4,267.7) rotate(-90)" text-anchor="middle" font-family='"Liberation Sans", Arial, sans-serif' font-size="23" fill="#000" stroke="#000" stroke-width="0.3">Wave Height - Metres</text>
<text id="rtitle" transform="translate(1058.8,265) rotate(90)" text-anchor="middle" font-family='"Liberation Sans", Arial, sans-serif' font-size="23" fill="#000" stroke="#000" stroke-width="0.3">Wind Speed - Knots</text>
<rect x="884" y="385.5" width="130.5" height="22.4" fill="#fff"/>
<text id="wm" x="893" y="401" font-family='"Liberation Sans", Arial, sans-serif' font-size="10.5" fill="#a4a4a4" letter-spacing="0.34">www.seabreeze.com.au</text>
<text class="day" x="128.6" y="435" text-anchor="middle" font-family='"Liberation Sans", Arial, sans-serif' font-size="16.5" fill="#000" stroke="#000" stroke-width="0.25">Thursday</text>
<text class="dt" x="129.5" y="459" text-anchor="middle" font-family='"DejaVu Sans", Tahoma, Verdana, sans-serif' font-size="17" fill="#7c7c7c" stroke="#7c7c7c" stroke-width="0.5">5th</text>
<text class="temp" x="129.2" y="59" text-anchor="middle" font-family='"DejaVu Sans", Tahoma, Verdana, sans-serif' font-size="16.3" fill="#000" stroke="#000" stroke-width="0.3">20-29°</text>
<g transform="translate(129.6,93.6)"><path d="M3.2,-11.0 L0.0,-26.0 L-3.2,-11.0 Z M6.6,-9.2 L8.2,-19.9 L1.8,-11.2 Z M10.0,-5.5 L18.4,-18.4 L5.5,-10.0 Z M11.2,-1.8 L19.9,-8.2 L9.2,-6.6 Z M11.0,3.2 L26.0,-0.0 L11.0,-3.2 Z M9.2,6.6 L19.9,8.2 L11.2,1.8 Z M5.5,10.0 L18.4,18.4 L10.0,5.5 Z M1.8,11.2 L8.2,19.9 L6.6,9.2 Z M-3.2,11.0 L0.0,26.0 L3.2,11.0 Z M-6.6,9.2 L-8.2,19.9 L-1.8,11.2 Z M-10.0,5.5 L-18.4,18.4 L-5.5,10.0 Z M-11.2,1.8 L-19.9,8.2 L-9.2,6.6 Z M-11.0,-3.2 L-26.0,0.0 L-11.0,3.2 Z M-9.2,-6.6 L-19.9,-8.2 L-11.2,-1.8 Z M-5.5,-10.0 L-18.4,-18.4 L-10.0,-5.5 Z M-1.8,-11.2 L-8.2,-19.9 L-6.6,-9.2 Z" fill="url(#rayG)" stroke="#d8900a" stroke-width="0.7" stroke-linejoin="round"/><circle r="13.3" fill="url(#sunG)" stroke="#eea00a" stroke-width="0.9"/><g><path d="M-4.5,14.5 C-11.5,14.5 -12.2,6 -8.2,3.6 C-9,-1.4 -2.6,-4.6 1.6,-1.8 C4,-8.6 15.6,-9.6 18.6,-2.8 C21.6,-5 26.8,-2.4 26,1.8 C30.8,2.8 31,13.6 23.6,14.5 Z" fill="#fff6c8" stroke="#fff3b0" stroke-width="2" opacity="0.85"/><path d="M-4.5,14.5 C-11.5,14.5 -12.2,6 -8.2,3.6 C-9,-1.4 -2.6,-4.6 1.6,-1.8 C4,-8.6 15.6,-9.6 18.6,-2.8 C21.6,-5 26.8,-2.4 26,1.8 C30.8,2.8 31,13.6 23.6,14.5 Z" fill="url(#cloudG)" stroke="#909090" stroke-width="0.6"/></g><path transform="translate(-4.4,12.2) rotate(-38) scale(1.0)" d="M0,-4.6 C1.5,-2 3,-0.2 3,1.6 C3,3.4 1.7,4.6 0,4.6 C-1.7,4.6 -3,3.4 -3,1.6 C-3,-0.2 -1.5,-2 0,-4.6 Z" fill="url(#dropG)" stroke="#1583c6" stroke-width="0.5"/><ellipse transform="translate(-4.4,12.2) rotate(-38) scale(1.0)" cx="-0.6" cy="0.6" rx="1.1" ry="1.5" fill="#c8f0ff" opacity="0.8"/><path transform="translate(8.9,12.2) rotate(-38) scale(1.0)" d="M0,-4.6 C1.5,-2 3,-0.2 3,1.6 C3,3.4 1.7,4.6 0,4.6 C-1.7,4.6 -3,3.4 -3,1.6 C-3,-0.2 -1.5,-2 0,-4.6 Z" fill="url(#dropG)" stroke="#1583c6" stroke-width="0.5"/><ellipse transform="translate(8.9,12.2) rotate(-38) scale(1.0)" cx="-0.6" cy="0.6" rx="1.1" ry="1.5" fill="#c8f0ff" opacity="0.8"/><path transform="translate(23.4,12.8) rotate(-38) scale(1.0)" d="M0,-4.6 C1.5,-2 3,-0.2 3,1.6 C3,3.4 1.7,4.6 0,4.6 C-1.7,4.6 -3,3.4 -3,1.6 C-3,-0.2 -1.5,-2 0,-4.6 Z" fill="url(#dropG)" stroke="#1583c6" stroke-width="0.5"/><ellipse transform="translate(23.4,12.8) rotate(-38) scale(1.0)" cx="-0.6" cy="0.6" rx="1.1" ry="1.5" fill="#c8f0ff" opacity="0.8"/><path transform="translate(2.6,22.9) rotate(-38) scale(1.0)" d="M0,-4.6 C1.5,-2 3,-0.2 3,1.6 C3,3.4 1.7,4.6 0,4.6 C-1.7,4.6 -3,3.4 -3,1.6 C-3,-0.2 -1.5,-2 0,-4.6 Z" fill="url(#dropG)" stroke="#1583c6" stroke-width="0.5"/><ellipse transform="translate(2.6,22.9) rotate(-38) scale(1.0)" cx="-0.6" cy="0.6" rx="1.1" ry="1.5" fill="#c8f0ff" opacity="0.8"/><path transform="translate(15.8,22.9) rotate(-38) scale(1.0)" d="M0,-4.6 C1.5,-2 3,-0.2 3,1.6 C3,3.4 1.7,4.6 0,4.6 C-1.7,4.6 -3,3.4 -3,1.6 C-3,-0.2 -1.5,-2 0,-4.6 Z" fill="url(#dropG)" stroke="#1583c6" stroke-width="0.5"/><ellipse transform="translate(15.8,22.9) rotate(-38) scale(1.0)" cx="-0.6" cy="0.6" rx="1.1" ry="1.5" fill="#c8f0ff" opacity="0.8"/></g>
<text class="day" x="265.2" y="435" text-anchor="middle" font-family='"Liberation Sans", Arial, sans-serif' font-size="16.5" fill="#000" stroke="#000" stroke-width="0.25">Friday</text>
<text class="dt" x="266.2" y="459" text-anchor="middle" font-family='"DejaVu Sans", Tahoma, Verdana, sans-serif' font-size="17" fill="#7c7c7c" stroke="#7c7c7c" stroke-width="0.5">6th</text>
<text class="temp" x="265.6" y="59" text-anchor="middle" font-family='"DejaVu Sans", Tahoma, Verdana, sans-serif' font-size="16.3" fill="#000" stroke="#000" stroke-width="0.3">21-29°</text>
<g transform="translate(266.1,93.6)"><path d="M3.2,-11.0 L0.0,-26.0 L-3.2,-11.0 Z M6.6,-9.2 L8.2,-19.9 L1.8,-11.2 Z M10.0,-5.5 L18.4,-18.4 L5.5,-10.0 Z M11.2,-1.8 L19.9,-8.2 L9.2,-6.6 Z M11.0,3.2 L26.0,-0.0 L11.0,-3.2 Z M9.2,6.6 L19.9,8.2 L11.2,1.8 Z M5.5,10.0 L18.4,18.4 L10.0,5.5 Z M1.8,11.2 L8.2,19.9 L6.6,9.2 Z M-3.2,11.0 L0.0,26.0 L3.2,11.0 Z M-6.6,9.2 L-8.2,19.9 L-1.8,11.2 Z M-10.0,5.5 L-18.4,18.4 L-5.5,10.0 Z M-11.2,1.8 L-19.9,8.2 L-9.2,6.6 Z M-11.0,-3.2 L-26.0,0.0 L-11.0,3.2 Z M-9.2,-6.6 L-19.9,-8.2 L-11.2,-1.8 Z M-5.5,-10.0 L-18.4,-18.4 L-10.0,-5.5 Z M-1.8,-11.2 L-8.2,-19.9 L-6.6,-9.2 Z" fill="url(#rayG)" stroke="#d8900a" stroke-width="0.7" stroke-linejoin="round"/><circle r="13.3" fill="url(#sunG)" stroke="#eea00a" stroke-width="0.9"/><g><path d="M-4.5,14.5 C-11.5,14.5 -12.2,6 -8.2,3.6 C-9,-1.4 -2.6,-4.6 1.6,-1.8 C4,-8.6 15.6,-9.6 18.6,-2.8 C21.6,-5 26.8,-2.4 26,1.8 C30.8,2.8 31,13.6 23.6,14.5 Z" fill="#fff6c8" stroke="#fff3b0" stroke-width="2" opacity="0.85"/><path d="M-4.5,14.5 C-11.5,14.5 -12.2,6 -8.2,3.6 C-9,-1.4 -2.6,-4.6 1.6,-1.8 C4,-8.6 15.6,-9.6 18.6,-2.8 C21.6,-5 26.8,-2.4 26,1.8 C30.8,2.8 31,13.6 23.6,14.5 Z" fill="url(#cloudG)" stroke="#909090" stroke-width="0.6"/></g><path transform="translate(-4.4,12.2) rotate(-38) scale(1.0)" d="M0,-4.6 C1.5,-2 3,-0.2 3,1.6 C3,3.4 1.7,4.6 0,4.6 C-1.7,4.6 -3,3.4 -3,1.6 C-3,-0.2 -1.5,-2 0,-4.6 Z" fill="url(#dropG)" stroke="#1583c6" stroke-width="0.5"/><ellipse transform="translate(-4.4,12.2) rotate(-38) scale(1.0)" cx="-0.6" cy="0.6" rx="1.1" ry="1.5" fill="#c8f0ff" opacity="0.8"/><path transform="translate(8.9,12.2) rotate(-38) scale(1.0)" d="M0,-4.6 C1.5,-2 3,-0.2 3,1.6 C3,3.4 1.7,4.6 0,4.6 C-1.7,4.6 -3,3.4 -3,1.6 C-3,-0.2 -1.5,-2 0,-4.6 Z" fill="url(#dropG)" stroke="#1583c6" stroke-width="0.5"/><ellipse transform="translate(8.9,12.2) rotate(-38) scale(1.0)" cx="-0.6" cy="0.6" rx="1.1" ry="1.5" fill="#c8f0ff" opacity="0.8"/><path transform="translate(23.4,12.8) rotate(-38) scale(1.0)" d="M0,-4.6 C1.5,-2 3,-0.2 3,1.6 C3,3.4 1.7,4.6 0,4.6 C-1.7,4.6 -3,3.4 -3,1.6 C-3,-0.2 -1.5,-2 0,-4.6 Z" fill="url(#dropG)" stroke="#1583c6" stroke-width="0.5"/><ellipse transform="translate(23.4,12.8) rotate(-38) scale(1.0)" cx="-0.6" cy="0.6" rx="1.1" ry="1.5" fill="#c8f0ff" opacity="0.8"/><path transform="translate(2.6,22.9) rotate(-38) scale(1.0)" d="M0,-4.6 C1.5,-2 3,-0.2 3,1.6 C3,3.4 1.7,4.6 0,4.6 C-1.7,4.6 -3,3.4 -3,1.6 C-3,-0.2 -1.5,-2 0,-4.6 Z" fill="url(#dropG)" stroke="#1583c6" stroke-width="0.5"/><ellipse transform="translate(2.6,22.9) rotate(-38) scale(1.0)" cx="-0.6" cy="0.6" rx="1.1" ry="1.5" fill="#c8f0ff" opacity="0.8"/><path transform="translate(15.8,22.9) rotate(-38) scale(1.0)" d="M0,-4.6 C1.5,-2 3,-0.2 3,1.6 C3,3.4 1.7,4.6 0,4.6 C-1.7,4.6 -3,3.4 -3,1.6 C-3,-0.2 -1.5,-2 0,-4.6 Z" fill="url(#dropG)" stroke="#1583c6" stroke-width="0.5"/><ellipse transform="translate(15.8,22.9) rotate(-38) scale(1.0)" cx="-0.6" cy="0.6" rx="1.1" ry="1.5" fill="#c8f0ff" opacity="0.8"/></g>
<text class="day" x="404.4" y="435" font-weight="bold" text-anchor="middle" font-family='"Liberation Sans", Arial, sans-serif' font-size="16.5" fill="#000" stroke="#000" stroke-width="0.25">Saturday</text>
<text class="dt" x="402.9" y="459" text-anchor="middle" font-family='"DejaVu Sans", Tahoma, Verdana, sans-serif' font-size="17" fill="#7c7c7c" stroke="#7c7c7c" stroke-width="0.5">7th</text>
<text class="temp" x="402.0" y="59" text-anchor="middle" font-family='"DejaVu Sans", Tahoma, Verdana, sans-serif' font-size="16.3" fill="#000" stroke="#000" stroke-width="0.3">22-29°</text>
<g transform="translate(402.6,93.6)"><path d="M3.2,-11.0 L0.0,-26.0 L-3.2,-11.0 Z M6.6,-9.2 L8.2,-19.9 L1.8,-11.2 Z M10.0,-5.5 L18.4,-18.4 L5.5,-10.0 Z M11.2,-1.8 L19.9,-8.2 L9.2,-6.6 Z M11.0,3.2 L26.0,-0.0 L11.0,-3.2 Z M9.2,6.6 L19.9,8.2 L11.2,1.8 Z M5.5,10.0 L18.4,18.4 L10.0,5.5 Z M1.8,11.2 L8.2,19.9 L6.6,9.2 Z M-3.2,11.0 L0.0,26.0 L3.2,11.0 Z M-6.6,9.2 L-8.2,19.9 L-1.8,11.2 Z M-10.0,5.5 L-18.4,18.4 L-5.5,10.0 Z M-11.2,1.8 L-19.9,8.2 L-9.2,6.6 Z M-11.0,-3.2 L-26.0,0.0 L-11.0,3.2 Z M-9.2,-6.6 L-19.9,-8.2 L-11.2,-1.8 Z M-5.5,-10.0 L-18.4,-18.4 L-10.0,-5.5 Z M-1.8,-11.2 L-8.2,-19.9 L-6.6,-9.2 Z" fill="url(#rayG)" stroke="#d8900a" stroke-width="0.7" stroke-linejoin="round"/><circle r="13.3" fill="url(#sunG)" stroke="#eea00a" stroke-width="0.9"/><g><path d="M-4.5,14.5 C-11.5,14.5 -12.2,6 -8.2,3.6 C-9,-1.4 -2.6,-4.6 1.6,-1.8 C4,-8.6 15.6,-9.6 18.6,-2.8 C21.6,-5 26.8,-2.4 26,1.8 C30.8,2.8 31,13.6 23.6,14.5 Z" fill="#fff6c8" stroke="#fff3b0" stroke-width="2" opacity="0.85"/><path d="M-4.5,14.5 C-11.5,14.5 -12.2,6 -8.2,3.6 C-9,-1.4 -2.6,-4.6 1.6,-1.8 C4,-8.6 15.6,-9.6 18.6,-2.8 C21.6,-5 26.8,-2.4 26,1.8 C30.8,2.8 31,13.6 23.6,14.5 Z" fill="url(#cloudG)" stroke="#909090" stroke-width="0.6"/></g><path transform="translate(-4.4,12.2) rotate(-38) scale(1.0)" d="M0,-4.6 C1.5,-2 3,-0.2 3,1.6 C3,3.4 1.7,4.6 0,4.6 C-1.7,4.6 -3,3.4 -3,1.6 C-3,-0.2 -1.5,-2 0,-4.6 Z" fill="url(#dropG)" stroke="#1583c6" stroke-width="0.5"/><ellipse transform="translate(-4.4,12.2) rotate(-38) scale(1.0)" cx="-0.6" cy="0.6" rx="1.1" ry="1.5" fill="#c8f0ff" opacity="0.8"/><path transform="translate(8.9,12.2) rotate(-38) scale(1.0)" d="M0,-4.6 C1.5,-2 3,-0.2 3,1.6 C3,3.4 1.7,4.6 0,4.6 C-1.7,4.6 -3,3.4 -3,1.6 C-3,-0.2 -1.5,-2 0,-4.6 Z" fill="url(#dropG)" stroke="#1583c6" stroke-width="0.5"/><ellipse transform="translate(8.9,12.2) rotate(-38) scale(1.0)" cx="-0.6" cy="0.6" rx="1.1" ry="1.5" fill="#c8f0ff" opacity="0.8"/><path transform="translate(23.4,12.8) rotate(-38) scale(1.0)" d="M0,-4.6 C1.5,-2 3,-0.2 3,1.6 C3,3.4 1.7,4.6 0,4.6 C-1.7,4.6 -3,3.4 -3,1.6 C-3,-0.2 -1.5,-2 0,-4.6 Z" fill="url(#dropG)" stroke="#1583c6" stroke-width="0.5"/><ellipse transform="translate(23.4,12.8) rotate(-38) scale(1.0)" cx="-0.6" cy="0.6" rx="1.1" ry="1.5" fill="#c8f0ff" opacity="0.8"/><path transform="translate(2.6,22.9) rotate(-38) scale(1.0)" d="M0,-4.6 C1.5,-2 3,-0.2 3,1.6 C3,3.4 1.7,4.6 0,4.6 C-1.7,4.6 -3,3.4 -3,1.6 C-3,-0.2 -1.5,-2 0,-4.6 Z" fill="url(#dropG)" stroke="#1583c6" stroke-width="0.5"/><ellipse transform="translate(2.6,22.9) rotate(-38) scale(1.0)" cx="-0.6" cy="0.6" rx="1.1" ry="1.5" fill="#c8f0ff" opacity="0.8"/><path transform="translate(15.8,22.9) rotate(-38) scale(1.0)" d="M0,-4.6 C1.5,-2 3,-0.2 3,1.6 C3,3.4 1.7,4.6 0,4.6 C-1.7,4.6 -3,3.4 -3,1.6 C-3,-0.2 -1.5,-2 0,-4.6 Z" fill="url(#dropG)" stroke="#1583c6" stroke-width="0.5"/><ellipse transform="translate(15.8,22.9) rotate(-38) scale(1.0)" cx="-0.6" cy="0.6" rx="1.1" ry="1.5" fill="#c8f0ff" opacity="0.8"/></g>
<text class="day" x="540.1" y="435" font-weight="bold" text-anchor="middle" font-family='"Liberation Sans", Arial, sans-serif' font-size="16.5" fill="#000" stroke="#000" stroke-width="0.25">Sunday</text>
<text class="dt" x="539.6" y="459" text-anchor="middle" font-family='"DejaVu Sans", Tahoma, Verdana, sans-serif' font-size="17" fill="#7c7c7c" stroke="#7c7c7c" stroke-width="0.5">8th</text>
<text class="temp" x="538.4" y="59" text-anchor="middle" font-family='"DejaVu Sans", Tahoma, Verdana, sans-serif' font-size="16.3" fill="#000" stroke="#000" stroke-width="0.3">21-28°</text>
<g transform="translate(539.1,93.6)"><path d="M3.2,-11.0 L0.0,-26.0 L-3.2,-11.0 Z M6.6,-9.2 L8.2,-19.9 L1.8,-11.2 Z M10.0,-5.5 L18.4,-18.4 L5.5,-10.0 Z M11.2,-1.8 L19.9,-8.2 L9.2,-6.6 Z M11.0,3.2 L26.0,-0.0 L11.0,-3.2 Z M9.2,6.6 L19.9,8.2 L11.2,1.8 Z M5.5,10.0 L18.4,18.4 L10.0,5.5 Z M1.8,11.2 L8.2,19.9 L6.6,9.2 Z M-3.2,11.0 L0.0,26.0 L3.2,11.0 Z M-6.6,9.2 L-8.2,19.9 L-1.8,11.2 Z M-10.0,5.5 L-18.4,18.4 L-5.5,10.0 Z M-11.2,1.8 L-19.9,8.2 L-9.2,6.6 Z M-11.0,-3.2 L-26.0,0.0 L-11.0,3.2 Z M-9.2,-6.6 L-19.9,-8.2 L-11.2,-1.8 Z M-5.5,-10.0 L-18.4,-18.4 L-10.0,-5.5 Z M-1.8,-11.2 L-8.2,-19.9 L-6.6,-9.2 Z" fill="url(#rayG)" stroke="#d8900a" stroke-width="0.7" stroke-linejoin="round"/><circle r="13.3" fill="url(#sunG)" stroke="#eea00a" stroke-width="0.9"/><g><path d="M-4.5,14.5 C-11.5,14.5 -12.2,6 -8.2,3.6 C-9,-1.4 -2.6,-4.6 1.6,-1.8 C4,-8.6 15.6,-9.6 18.6,-2.8 C21.6,-5 26.8,-2.4 26,1.8 C30.8,2.8 31,13.6 23.6,14.5 Z" fill="#fff6c8" stroke="#fff3b0" stroke-width="2" opacity="0.85"/><path d="M-4.5,14.5 C-11.5,14.5 -12.2,6 -8.2,3.6 C-9,-1.4 -2.6,-4.6 1.6,-1.8 C4,-8.6 15.6,-9.6 18.6,-2.8 C21.6,-5 26.8,-2.4 26,1.8 C30.8,2.8 31,13.6 23.6,14.5 Z" fill="url(#cloudG)" stroke="#909090" stroke-width="0.6"/></g><path transform="translate(-4.4,12.2) rotate(-38) scale(1.0)" d="M0,-4.6 C1.5,-2 3,-0.2 3,1.6 C3,3.4 1.7,4.6 0,4.6 C-1.7,4.6 -3,3.4 -3,1.6 C-3,-0.2 -1.5,-2 0,-4.6 Z" fill="url(#dropG)" stroke="#1583c6" stroke-width="0.5"/><ellipse transform="translate(-4.4,12.2) rotate(-38) scale(1.0)" cx="-0.6" cy="0.6" rx="1.1" ry="1.5" fill="#c8f0ff" opacity="0.8"/><path transform="translate(8.9,12.2) rotate(-38) scale(1.0)" d="M0,-4.6 C1.5,-2 3,-0.2 3,1.6 C3,3.4 1.7,4.6 0,4.6 C-1.7,4.6 -3,3.4 -3,1.6 C-3,-0.2 -1.5,-2 0,-4.6 Z" fill="url(#dropG)" stroke="#1583c6" stroke-width="0.5"/><ellipse transform="translate(8.9,12.2) rotate(-38) scale(1.0)" cx="-0.6" cy="0.6" rx="1.1" ry="1.5" fill="#c8f0ff" opacity="0.8"/><path transform="translate(23.4,12.8) rotate(-38) scale(1.0)" d="M0,-4.6 C1.5,-2 3,-0.2 3,1.6 C3,3.4 1.7,4.6 0,4.6 C-1.7,4.6 -3,3.4 -3,1.6 C-3,-0.2 -1.5,-2 0,-4.6 Z" fill="url(#dropG)" stroke="#1583c6" stroke-width="0.5"/><ellipse transform="translate(23.4,12.8) rotate(-38) scale(1.0)" cx="-0.6" cy="0.6" rx="1.1" ry="1.5" fill="#c8f0ff" opacity="0.8"/><path transform="translate(2.6,22.9) rotate(-38) scale(1.0)" d="M0,-4.6 C1.5,-2 3,-0.2 3,1.6 C3,3.4 1.7,4.6 0,4.6 C-1.7,4.6 -3,3.4 -3,1.6 C-3,-0.2 -1.5,-2 0,-4.6 Z" fill="url(#dropG)" stroke="#1583c6" stroke-width="0.5"/><ellipse transform="translate(2.6,22.9) rotate(-38) scale(1.0)" cx="-0.6" cy="0.6" rx="1.1" ry="1.5" fill="#c8f0ff" opacity="0.8"/><path transform="translate(15.8,22.9) rotate(-38) scale(1.0)" d="M0,-4.6 C1.5,-2 3,-0.2 3,1.6 C3,3.4 1.7,4.6 0,4.6 C-1.7,4.6 -3,3.4 -3,1.6 C-3,-0.2 -1.5,-2 0,-4.6 Z" fill="url(#dropG)" stroke="#1583c6" stroke-width="0.5"/><ellipse transform="translate(15.8,22.9) rotate(-38) scale(1.0)" cx="-0.6" cy="0.6" rx="1.1" ry="1.5" fill="#c8f0ff" opacity="0.8"/></g>
<text class="day" x="674.4" y="435" text-anchor="middle" font-family='"Liberation Sans", Arial, sans-serif' font-size="16.5" fill="#000" stroke="#000" stroke-width="0.25">Monday</text>
<text class="dt" x="676.3" y="459" text-anchor="middle" font-family='"DejaVu Sans", Tahoma, Verdana, sans-serif' font-size="17" fill="#7c7c7c" stroke="#7c7c7c" stroke-width="0.5">9th</text>
<text class="temp" x="674.8" y="59" text-anchor="middle" font-family='"DejaVu Sans", Tahoma, Verdana, sans-serif' font-size="16.3" fill="#000" stroke="#000" stroke-width="0.3">21-28°</text>
<g transform="translate(675.6,93.6)"><path d="M3.2,-11.0 L0.0,-26.0 L-3.2,-11.0 Z M6.6,-9.2 L8.2,-19.9 L1.8,-11.2 Z M10.0,-5.5 L18.4,-18.4 L5.5,-10.0 Z M11.2,-1.8 L19.9,-8.2 L9.2,-6.6 Z M11.0,3.2 L26.0,-0.0 L11.0,-3.2 Z M9.2,6.6 L19.9,8.2 L11.2,1.8 Z M5.5,10.0 L18.4,18.4 L10.0,5.5 Z M1.8,11.2 L8.2,19.9 L6.6,9.2 Z M-3.2,11.0 L0.0,26.0 L3.2,11.0 Z M-6.6,9.2 L-8.2,19.9 L-1.8,11.2 Z M-10.0,5.5 L-18.4,18.4 L-5.5,10.0 Z M-11.2,1.8 L-19.9,8.2 L-9.2,6.6 Z M-11.0,-3.2 L-26.0,0.0 L-11.0,3.2 Z M-9.2,-6.6 L-19.9,-8.2 L-11.2,-1.8 Z M-5.5,-10.0 L-18.4,-18.4 L-10.0,-5.5 Z M-1.8,-11.2 L-8.2,-19.9 L-6.6,-9.2 Z" fill="url(#rayG)" stroke="#d8900a" stroke-width="0.7" stroke-linejoin="round"/><circle r="13.3" fill="url(#sunG)" stroke="#eea00a" stroke-width="0.9"/><g><path d="M-4.5,14.5 C-11.5,14.5 -12.2,6 -8.2,3.6 C-9,-1.4 -2.6,-4.6 1.6,-1.8 C4,-8.6 15.6,-9.6 18.6,-2.8 C21.6,-5 26.8,-2.4 26,1.8 C30.8,2.8 31,13.6 23.6,14.5 Z" fill="#fff6c8" stroke="#fff3b0" stroke-width="2" opacity="0.85"/><path d="M-4.5,14.5 C-11.5,14.5 -12.2,6 -8.2,3.6 C-9,-1.4 -2.6,-4.6 1.6,-1.8 C4,-8.6 15.6,-9.6 18.6,-2.8 C21.6,-5 26.8,-2.4 26,1.8 C30.8,2.8 31,13.6 23.6,14.5 Z" fill="url(#cloudG)" stroke="#909090" stroke-width="0.6"/></g><path transform="translate(-4.4,12.2) rotate(-38) scale(1.0)" d="M0,-4.6 C1.5,-2 3,-0.2 3,1.6 C3,3.4 1.7,4.6 0,4.6 C-1.7,4.6 -3,3.4 -3,1.6 C-3,-0.2 -1.5,-2 0,-4.6 Z" fill="url(#dropG)" stroke="#1583c6" stroke-width="0.5"/><ellipse transform="translate(-4.4,12.2) rotate(-38) scale(1.0)" cx="-0.6" cy="0.6" rx="1.1" ry="1.5" fill="#c8f0ff" opacity="0.8"/><path transform="translate(8.9,12.2) rotate(-38) scale(1.0)" d="M0,-4.6 C1.5,-2 3,-0.2 3,1.6 C3,3.4 1.7,4.6 0,4.6 C-1.7,4.6 -3,3.4 -3,1.6 C-3,-0.2 -1.5,-2 0,-4.6 Z" fill="url(#dropG)" stroke="#1583c6" stroke-width="0.5"/><ellipse transform="translate(8.9,12.2) rotate(-38) scale(1.0)" cx="-0.6" cy="0.6" rx="1.1" ry="1.5" fill="#c8f0ff" opacity="0.8"/><path transform="translate(23.4,12.8) rotate(-38) scale(1.0)" d="M0,-4.6 C1.5,-2 3,-0.2 3,1.6 C3,3.4 1.7,4.6 0,4.6 C-1.7,4.6 -3,3.4 -3,1.6 C-3,-0.2 -1.5,-2 0,-4.6 Z" fill="url(#dropG)" stroke="#1583c6" stroke-width="0.5"/><ellipse transform="translate(23.4,12.8) rotate(-38) scale(1.0)" cx="-0.6" cy="0.6" rx="1.1" ry="1.5" fill="#c8f0ff" opacity="0.8"/><path transform="translate(2.6,22.9) rotate(-38) scale(1.0)" d="M0,-4.6 C1.5,-2 3,-0.2 3,1.6 C3,3.4 1.7,4.6 0,4.6 C-1.7,4.6 -3,3.4 -3,1.6 C-3,-0.2 -1.5,-2 0,-4.6 Z" fill="url(#dropG)" stroke="#1583c6" stroke-width="0.5"/><ellipse transform="translate(2.6,22.9) rotate(-38) scale(1.0)" cx="-0.6" cy="0.6" rx="1.1" ry="1.5" fill="#c8f0ff" opacity="0.8"/><path transform="translate(15.8,22.9) rotate(-38) scale(1.0)" d="M0,-4.6 C1.5,-2 3,-0.2 3,1.6 C3,3.4 1.7,4.6 0,4.6 C-1.7,4.6 -3,3.4 -3,1.6 C-3,-0.2 -1.5,-2 0,-4.6 Z" fill="url(#dropG)" stroke="#1583c6" stroke-width="0.5"/><ellipse transform="translate(15.8,22.9) rotate(-38) scale(1.0)" cx="-0.6" cy="0.6" rx="1.1" ry="1.5" fill="#c8f0ff" opacity="0.8"/></g>
<text class="day" x="811.5" y="435" text-anchor="middle" font-family='"Liberation Sans", Arial, sans-serif' font-size="16.5" fill="#000" stroke="#000" stroke-width="0.25">Tuesday</text>
<text class="dt" x="813.0" y="459" text-anchor="middle" font-family='"DejaVu Sans", Tahoma, Verdana, sans-serif' font-size="17" fill="#7c7c7c" stroke="#7c7c7c" stroke-width="0.5">10th</text>
<text class="temp" x="811.2" y="59" text-anchor="middle" font-family='"DejaVu Sans", Tahoma, Verdana, sans-serif' font-size="16.3" fill="#000" stroke="#000" stroke-width="0.3">20-29°</text>
<g transform="translate(812.1,93.6)"><path d="M3.2,-11.0 L0.0,-26.0 L-3.2,-11.0 Z M6.6,-9.2 L8.2,-19.9 L1.8,-11.2 Z M10.0,-5.5 L18.4,-18.4 L5.5,-10.0 Z M11.2,-1.8 L19.9,-8.2 L9.2,-6.6 Z M11.0,3.2 L26.0,-0.0 L11.0,-3.2 Z M9.2,6.6 L19.9,8.2 L11.2,1.8 Z M5.5,10.0 L18.4,18.4 L10.0,5.5 Z M1.8,11.2 L8.2,19.9 L6.6,9.2 Z M-3.2,11.0 L0.0,26.0 L3.2,11.0 Z M-6.6,9.2 L-8.2,19.9 L-1.8,11.2 Z M-10.0,5.5 L-18.4,18.4 L-5.5,10.0 Z M-11.2,1.8 L-19.9,8.2 L-9.2,6.6 Z M-11.0,-3.2 L-26.0,0.0 L-11.0,3.2 Z M-9.2,-6.6 L-19.9,-8.2 L-11.2,-1.8 Z M-5.5,-10.0 L-18.4,-18.4 L-10.0,-5.5 Z M-1.8,-11.2 L-8.2,-19.9 L-6.6,-9.2 Z" fill="url(#rayG)" stroke="#d8900a" stroke-width="0.7" stroke-linejoin="round"/><circle r="13.3" fill="url(#sunG)" stroke="#eea00a" stroke-width="0.9"/><g><path d="M-4.5,14.5 C-11.5,14.5 -12.2,6 -8.2,3.6 C-9,-1.4 -2.6,-4.6 1.6,-1.8 C4,-8.6 15.6,-9.6 18.6,-2.8 C21.6,-5 26.8,-2.4 26,1.8 C30.8,2.8 31,13.6 23.6,14.5 Z" fill="#fff6c8" stroke="#fff3b0" stroke-width="2" opacity="0.85"/><path d="M-4.5,14.5 C-11.5,14.5 -12.2,6 -8.2,3.6 C-9,-1.4 -2.6,-4.6 1.6,-1.8 C4,-8.6 15.6,-9.6 18.6,-2.8 C21.6,-5 26.8,-2.4 26,1.8 C30.8,2.8 31,13.6 23.6,14.5 Z" fill="url(#cloudG)" stroke="#909090" stroke-width="0.6"/></g><path transform="translate(-4.4,12.2) rotate(-38) scale(1.0)" d="M0,-4.6 C1.5,-2 3,-0.2 3,1.6 C3,3.4 1.7,4.6 0,4.6 C-1.7,4.6 -3,3.4 -3,1.6 C-3,-0.2 -1.5,-2 0,-4.6 Z" fill="url(#dropG)" stroke="#1583c6" stroke-width="0.5"/><ellipse transform="translate(-4.4,12.2) rotate(-38) scale(1.0)" cx="-0.6" cy="0.6" rx="1.1" ry="1.5" fill="#c8f0ff" opacity="0.8"/><path transform="translate(8.9,12.2) rotate(-38) scale(1.0)" d="M0,-4.6 C1.5,-2 3,-0.2 3,1.6 C3,3.4 1.7,4.6 0,4.6 C-1.7,4.6 -3,3.4 -3,1.6 C-3,-0.2 -1.5,-2 0,-4.6 Z" fill="url(#dropG)" stroke="#1583c6" stroke-width="0.5"/><ellipse transform="translate(8.9,12.2) rotate(-38) scale(1.0)" cx="-0.6" cy="0.6" rx="1.1" ry="1.5" fill="#c8f0ff" opacity="0.8"/><path transform="translate(23.4,12.8) rotate(-38) scale(1.0)" d="M0,-4.6 C1.5,-2 3,-0.2 3,1.6 C3,3.4 1.7,4.6 0,4.6 C-1.7,4.6 -3,3.4 -3,1.6 C-3,-0.2 -1.5,-2 0,-4.6 Z" fill="url(#dropG)" stroke="#1583c6" stroke-width="0.5"/><ellipse transform="translate(23.4,12.8) rotate(-38) scale(1.0)" cx="-0.6" cy="0.6" rx="1.1" ry="1.5" fill="#c8f0ff" opacity="0.8"/><path transform="translate(2.6,22.9) rotate(-38) scale(1.0)" d="M0,-4.6 C1.5,-2 3,-0.2 3,1.6 C3,3.4 1.7,4.6 0,4.6 C-1.7,4.6 -3,3.4 -3,1.6 C-3,-0.2 -1.5,-2 0,-4.6 Z" fill="url(#dropG)" stroke="#1583c6" stroke-width="0.5"/><ellipse transform="translate(2.6,22.9) rotate(-38) scale(1.0)" cx="-0.6" cy="0.6" rx="1.1" ry="1.5" fill="#c8f0ff" opacity="0.8"/><path transform="translate(15.8,22.9) rotate(-38) scale(1.0)" d="M0,-4.6 C1.5,-2 3,-0.2 3,1.6 C3,3.4 1.7,4.6 0,4.6 C-1.7,4.6 -3,3.4 -3,1.6 C-3,-0.2 -1.5,-2 0,-4.6 Z" fill="url(#dropG)" stroke="#1583c6" stroke-width="0.5"/><ellipse transform="translate(15.8,22.9) rotate(-38) scale(1.0)" cx="-0.6" cy="0.6" rx="1.1" ry="1.5" fill="#c8f0ff" opacity="0.8"/></g>
<text class="day" x="946.7" y="435" text-anchor="middle" font-family='"Liberation Sans", Arial, sans-serif' font-size="16.5" fill="#000" stroke="#000" stroke-width="0.25">Wednesday</text>
<text class="dt" x="949.7" y="459" text-anchor="middle" font-family='"DejaVu Sans", Tahoma, Verdana, sans-serif' font-size="17" fill="#7c7c7c" stroke="#7c7c7c" stroke-width="0.5">11th</text>
<text class="temp" x="947.6" y="59" text-anchor="middle" font-family='"DejaVu Sans", Tahoma, Verdana, sans-serif' font-size="16.3" fill="#000" stroke="#000" stroke-width="0.3">19-29°</text>
<g transform="translate(948.6,93.6)"><path d="M3.2,-11.0 L0.0,-26.0 L-3.2,-11.0 Z M6.6,-9.2 L8.2,-19.9 L1.8,-11.2 Z M10.0,-5.5 L18.4,-18.4 L5.5,-10.0 Z M11.2,-1.8 L19.9,-8.2 L9.2,-6.6 Z M11.0,3.2 L26.0,-0.0 L11.0,-3.2 Z M9.2,6.6 L19.9,8.2 L11.2,1.8 Z M5.5,10.0 L18.4,18.4 L10.0,5.5 Z M1.8,11.2 L8.2,19.9 L6.6,9.2 Z M-3.2,11.0 L0.0,26.0 L3.2,11.0 Z M-6.6,9.2 L-8.2,19.9 L-1.8,11.2 Z M-10.0,5.5 L-18.4,18.4 L-5.5,10.0 Z M-11.2,1.8 L-19.9,8.2 L-9.2,6.6 Z M-11.0,-3.2 L-26.0,0.0 L-11.0,3.2 Z M-9.2,-6.6 L-19.9,-8.2 L-11.2,-1.8 Z M-5.5,-10.0 L-18.4,-18.4 L-10.0,-5.5 Z M-1.8,-11.2 L-8.2,-19.9 L-6.6,-9.2 Z" fill="url(#rayG)" stroke="#d8900a" stroke-width="0.7" stroke-linejoin="round"/><circle r="13.3" fill="url(#sunG)" stroke="#eea00a" stroke-width="0.9"/><g transform="translate(0,0.9) scale(1.0,1.02)"><path d="M-4.5,14.5 C-11.5,14.5 -12.2,6 -8.2,3.6 C-9,-1.4 -2.6,-4.6 1.6,-1.8 C4,-8.6 15.6,-9.6 18.6,-2.8 C21.6,-5 26.8,-2.4 26,1.8 C30.8,2.8 31,13.6 23.6,14.5 Z" fill="#fff6c8" stroke="#fff3b0" stroke-width="2" opacity="0.85"/><path d="M-4.5,14.5 C-11.5,14.5 -12.2,6 -8.2,3.6 C-9,-1.4 -2.6,-4.6 1.6,-1.8 C4,-8.6 15.6,-9.6 18.6,-2.8 C21.6,-5 26.8,-2.4 26,1.8 C30.8,2.8 31,13.6 23.6,14.5 Z" fill="url(#cloudL)" stroke="#909090" stroke-width="0.6"/></g></g>
</svg>
</body></html>
